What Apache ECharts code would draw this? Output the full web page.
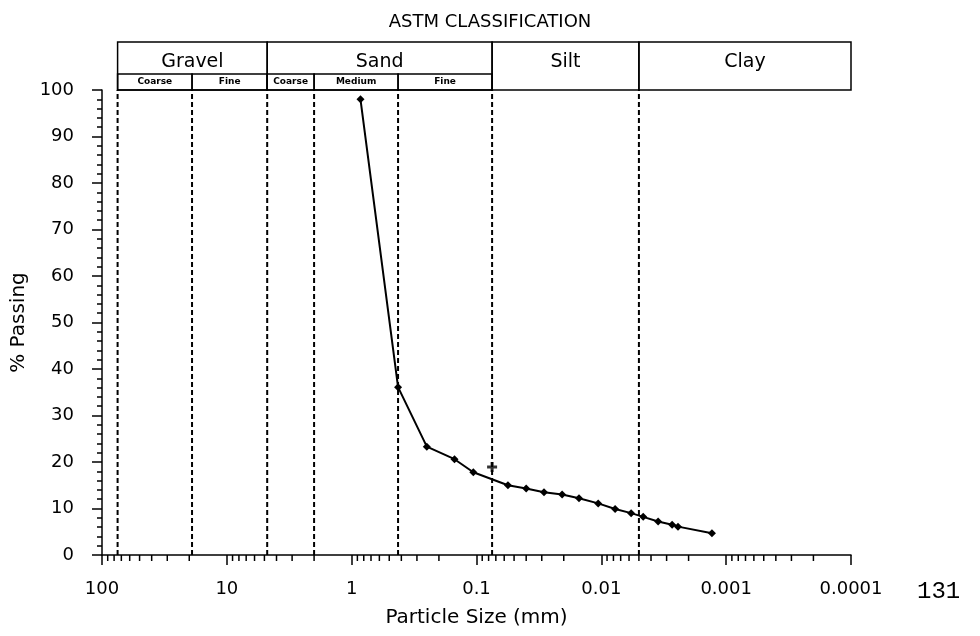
<!DOCTYPE html>
<html>
<head>
<meta charset="utf-8">
<script src="https://cdn.jsdelivr.net/npm/echarts@6/dist/echarts.min.js"></script>
<style>
  html, body { margin: 0; padding: 0; background: #fff; }
  #chart { width: 980px; height: 636px; }
</style>
</head>
<body>
<div id="chart"></div>
<script>
// grain size distribution (sieve + hydrometer)
const sizes = [0.85, 0.425, 0.25, 0.15, 0.106, 0.056, 0.040, 0.0288, 0.0206, 0.0151,
               0.0106, 0.00775, 0.00577, 0.00462, 0.00351, 0.00271, 0.00243, 0.0013];
const passing = [98.0, 36.1, 23.3, 20.6, 17.8, 15.0, 14.3, 13.5, 13.0, 12.2,
                 11.1, 9.9, 9.0, 8.2, 7.2, 6.5, 6.1, 4.7];

// single separate point at the #200 sieve
const extraSizes = [0.075];
const extraPassing = [18.9];

// ASTM class limits (mm)
const classNames = ['Gravel', 'Sand', 'Silt', 'Clay'];
const classFrom = [75, 4.75, 0.075, 0.005];
const classTo = [4.75, 0.075, 0.005, 0.0001];
const subNames = ['Coarse', 'Fine', 'Coarse', 'Medium', 'Fine'];
const subFrom = [75, 19, 4.75, 2.0, 0.425];
const subTo = [19, 4.75, 2.0, 0.425, 0.075];
const dashedAt = [75, 19, 4.75, 2.0, 0.425, 0.075, 0.005];

const xTickLabels = ['0.0001', '0.001', '0.01', '0.1', '1', '10', '100'];

// log minor ticks 2..9 in each decade
const minorTicks = [];
for (let e = -4; e < 2; e++) {
    for (let m = 2; m <= 9; m++) minorTicks.push(m * Math.pow(10, e));
}

const FONT = 'DejaVu Sans';

const chart = echarts.init(document.getElementById('chart'));

function renderClass(params, api) {
    const p1 = api.coord([api.value(0), 100]);
    const p2 = api.coord([api.value(1), 100]);
    const x = Math.min(p1[0], p2[0]);
    const w = Math.abs(p2[0] - p1[0]);
    const y0 = p1[1];
    return {
        type: 'group',
        children: [
            { type: 'rect', shape: { x: x, y: y0 - 48, width: w, height: 48 },
              style: { fill: 'none', stroke: '#000', lineWidth: 1.5 } },
            { type: 'text', style: { text: classNames[params.dataIndex], x: x + w / 2, y: y0 - 28,
              align: 'center', verticalAlign: 'middle', fontSize: 19, fontFamily: FONT, fill: '#000' } }
        ]
    };
}

function renderSub(params, api) {
    const p1 = api.coord([api.value(0), 100]);
    const p2 = api.coord([api.value(1), 100]);
    const x = Math.min(p1[0], p2[0]);
    const w = Math.abs(p2[0] - p1[0]);
    const y0 = p1[1];
    return {
        type: 'group',
        children: [
            { type: 'rect', shape: { x: x, y: y0 - 16, width: w, height: 16 },
              style: { fill: 'none', stroke: '#000', lineWidth: 1.5 } },
            { type: 'text', style: { text: subNames[params.dataIndex], x: x + w / 2, y: y0 - 8,
              align: 'center', verticalAlign: 'middle', fontSize: 9, fontWeight: 'bold',
              fontFamily: FONT, fill: '#000' } }
        ]
    };
}

function renderMinorTick(params, api) {
    const p = api.coord([api.value(0), 0]);
    return { type: 'line', shape: { x1: p[0], y1: p[1], x2: p[0], y2: p[1] + 6 },
             style: { stroke: '#000', lineWidth: 1.5 } };
}

function renderDashed(params, api) {
    const p0 = api.coord([api.value(0), 0]);
    const p1 = api.coord([api.value(0), 100]);
    return { type: 'line', shape: { x1: p0[0], y1: p0[1], x2: p1[0], y2: p1[1] },
             style: { stroke: '#000', lineWidth: 2, lineDash: [5, 3] } };
}

const option = {
    backgroundColor: '#fff',
    animation: false,
    title: {
        text: 'ASTM CLASSIFICATION',
        left: 'center',
        top: 8,
        textStyle: { fontSize: 18, fontWeight: 'normal', fontFamily: FONT, color: '#000' }
    },
    grid: { left: 102, right: 129, top: 90, bottom: 81 },
    xAxis: {
        type: 'log',
        logBase: 10,
        min: 0.0001,
        max: 100,
        splitNumber: 6,
        inverse: true,
        name: 'Particle Size (mm)',
        nameLocation: 'middle',
        nameGap: 53,
        nameTextStyle: { fontSize: 20, fontFamily: FONT, color: '#000' },
        axisLine: { show: true, lineStyle: { color: '#000', width: 1.5 } },
        axisTick: { show: true, length: 10, lineStyle: { color: '#000', width: 1.5 } },
        axisLabel: {
            margin: 25, fontSize: 18, fontFamily: FONT, color: '#000',
            formatter: v => xTickLabels[Math.round(Math.log10(v)) + 4]
        },
        splitLine: { show: false }
    },
    yAxis: {
        type: 'value',
        min: 0,
        max: 100,
        interval: 10,
        name: '% Passing',
        nameLocation: 'middle',
        nameGap: 62,
        nameTextStyle: { fontSize: 20, fontFamily: FONT, color: '#000' },
        axisLine: { show: true, lineStyle: { color: '#000', width: 1.5 } },
        axisTick: { show: true, length: 10, lineStyle: { color: '#000', width: 1.5 } },
        minorTick: { show: true, splitNumber: 5, length: 5, lineStyle: { color: '#000', width: 1.5 } },
        axisLabel: { margin: 28, fontSize: 18, fontFamily: FONT, color: '#000' },
        splitLine: { show: false }
    },
    series: [
        {
            type: 'custom',
            silent: true,
            renderItem: renderDashed,
            encode: { x: 0, y: 1 },
            data: dashedAt.map(v => [v, 0])
        },
        {
            type: 'line',
            data: sizes.map((s, i) => [s, passing[i]]),
            symbol: 'diamond',
            symbolSize: 8,
            itemStyle: { color: '#000' },
            lineStyle: { color: '#000', width: 2 }
        },
        {
            type: 'scatter',
            data: extraSizes.map((s, i) => [s, extraPassing[i]]),
            symbol: 'path://M3.5,0h3v3.5h3.5v3h-3.5v3.5h-3v-3.5h-3.5v-3h3.5z',
            symbolSize: 10,
            itemStyle: { color: '#000' }
        },
        {
            type: 'custom',
            clip: false,
            silent: true,
            renderItem: renderClass,
            encode: { x: [0, 1], y: 2 },
            data: classNames.map((n, i) => [classFrom[i], classTo[i], 100])
        },
        {
            type: 'custom',
            clip: false,
            silent: true,
            renderItem: renderSub,
            encode: { x: [0, 1], y: 2 },
            data: subNames.map((n, i) => [subFrom[i], subTo[i], 100])
        },
        {
            type: 'custom',
            clip: false,
            silent: true,
            renderItem: renderMinorTick,
            encode: { x: 0, y: 1 },
            data: minorTicks.map(v => [v, 0])
        }
    ],
    graphic: [
        { type: 'text', left: 917, top: 580,
          style: { text: '131', fontSize: 24, fontFamily: 'Liberation Mono', fill: '#000' } }
    ]
};

chart.setOption(option);
</script>
</body>
</html>
